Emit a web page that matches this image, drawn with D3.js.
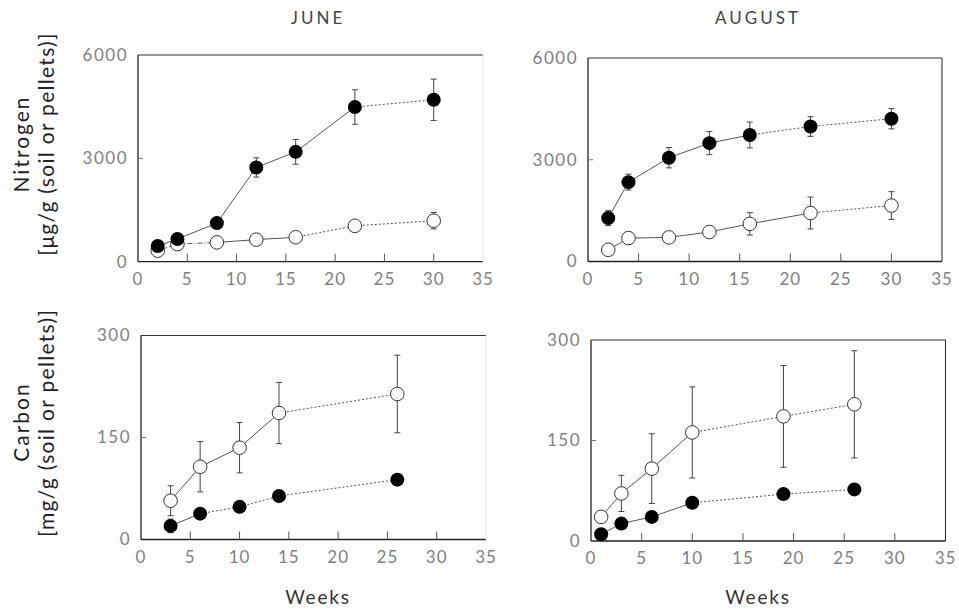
<!DOCTYPE html>
<html><head><meta charset="utf-8">
<script src="https://cdn.jsdelivr.net/npm/d3@7"></script>
<style>body{margin:0;background:#fff}svg{display:block}</style>
</head><body>
<svg id="c" width="959" height="611"></svg>
<script>
// ---- data ----
const xTicks = [0,5,10,15,20,25,30,35];
const nTicks = [0,3000,6000];
const cTicks = [0,150,300];
const columnTitles = ["JUNE","AUGUST"];

const weeksNJune = [2,4,8,12,16,22,30];
const nJuneFilled = [455,658,1120,2736,3188,4490,4700];
const nJuneFilledErr = [70,80,90,280,360,500,600];
const nJuneOpen = [320,510,560,640,710,1040,1190];
const nJuneOpenErr = [50,50,50,70,90,150,240];

const weeksNAug = [2,4,8,12,16,22,30];
const nAugFilled = [1280,2340,3060,3490,3730,3980,4210];
const nAugFilledErr = [220,235,300,340,380,290,300];
const nAugOpen = [345,690,710,870,1110,1430,1650];
const nAugOpenErr = [50,70,70,130,330,470,410];

const weeksCJune = [3,6,10,14,26];
const cJuneOpen = [57,107,135,186,214];
const cJuneOpenErr = [22,37,37,45,57];
const cJuneFilled = [20,38,48,64,88];
const cJuneFilledErr = [10,0,0,0,0];

const weeksCAug = [1,3,6,10,19,26];
const cAugOpen = [36,71,108,162,186,204];
const cAugOpenErr = [0,27,52,68,76,80];
const cAugFilled = [10,26,36,57,70,77];
const cAugFilledErr = [0,0,0,0,0,0];

// ---- layout / style ----
const FONT = "Lato, 'DejaVu Sans', sans-serif";
const S = "solid", D = "2,2", DD = "5,2,1,2";
const panels = [
  {x0:138, x1:483, yB:261.7, yT:55, ymax:6000, yt:nTicks, weeks:weeksNJune,
   filled:nJuneFilled, fErr:nJuneFilledErr, open:nJuneOpen, oErr:nJuneOpenErr,
   fDash:[S,S,S,S,S,D], oDash:[D,DD,S,S,D,D], faintRight:true},
  {x0:588, x1:942, yB:261.5, yT:58, ymax:6000, yt:nTicks, weeks:weeksNAug,
   filled:nAugFilled, fErr:nAugFilledErr, open:nAugOpen, oErr:nAugOpenErr,
   fDash:[S,S,S,S,D,D], oDash:[S,S,S,S,S,D], faintRight:false},
  {x0:141, x1:486, yB:539.5, yT:335.5, ymax:300, yt:cTicks, weeks:weeksCJune,
   filled:cJuneFilled, fErr:cJuneFilledErr, open:cJuneOpen, oErr:cJuneOpenErr,
   fDash:[S,D,D,D], oDash:[S,S,S,D], faintRight:true},
  {x0:591, x1:945.5, yB:541, yT:340, ymax:300, yt:cTicks, weeks:weeksCAug,
   filled:cAugFilled, fErr:cAugFilledErr, open:cAugOpen, oErr:cAugOpenErr,
   fDash:[S,S,S,D,D], oDash:[S,S,S,D,D], faintRight:false}
];

const svg = d3.select("#c");

panels.forEach(p => {
  const x = d3.scaleLinear().domain([0,35]).range([p.x0,p.x1]);
  const y = d3.scaleLinear().domain([0,p.ymax]).range([p.yB,p.yT]);
  const g = svg.append("g");

  // frame
  g.append("line").attr("x1",x(0)).attr("x2",x(35)).attr("y1",y(0)).attr("y2",y(0)).attr("stroke","#222").attr("stroke-width",1.3);
  g.append("line").attr("x1",x(0)).attr("x2",x(35)).attr("y1",y(p.ymax)).attr("y2",y(p.ymax)).attr("stroke","#333").attr("stroke-width",1.1);
  g.append("line").attr("x1",x(0)).attr("x2",x(0)).attr("y1",y(0)).attr("y2",y(p.ymax)).attr("stroke","#222").attr("stroke-width",1.3);
  g.append("line").attr("x1",x(35)).attr("x2",x(35)).attr("y1",y(0)).attr("y2",y(p.ymax))
    .attr("stroke", p.faintRight ? "#e6e6e6" : "#333").attr("stroke-width",1.1);

  // x ticks (inward) and labels
  xTicks.forEach(t => {
    if (t>0 && t<35) g.append("line").attr("x1",x(t)).attr("x2",x(t)).attr("y1",y(0)).attr("y2",y(0)-8).attr("stroke","#555").attr("stroke-width",1);
    g.append("text").attr("x",x(t)).attr("y",y(0)+23).attr("text-anchor","middle")
      .attr("font-family",FONT).attr("font-size",17).attr("letter-spacing","1px").attr("fill","#808080").text(t);
  });
  // y ticks and labels
  p.yt.forEach(t => {
    if (t>0 && t<p.ymax) g.append("line").attr("x1",x(0)).attr("x2",x(0)+5).attr("y1",y(t)).attr("y2",y(t)).attr("stroke","#777").attr("stroke-width",1);
    g.append("text").attr("x",x(0)-10).attr("y",y(t)).attr("dy","0.35em").attr("text-anchor","end")
      .attr("font-family",FONT).attr("font-size",17).attr("letter-spacing","1.5px").attr("fill","#808080").text(t);
  });

  // connecting lines, segment by segment
  const seg = (vals, dashes) => {
    for (let i=0;i<vals.length-1;i++){
      g.append("line").attr("x1",x(p.weeks[i])).attr("y1",y(vals[i]))
        .attr("x2",x(p.weeks[i+1])).attr("y2",y(vals[i+1]))
        .attr("stroke","#555").attr("stroke-width",1)
        .attr("stroke-dasharray", dashes[i]===S ? null : dashes[i]);
    }
  };
  seg(p.open, p.oDash);
  seg(p.filled, p.fDash);

  // error bars
  const err = (vals, errs) => {
    vals.forEach((v,i)=>{
      const e = errs[i]; if (!e) return;
      const cx = x(p.weeks[i]);
      g.append("line").attr("x1",cx).attr("x2",cx).attr("y1",y(v+e)).attr("y2",y(v-e)).attr("stroke","#444").attr("stroke-width",1);
      [v+e, v-e].forEach(w => g.append("line").attr("x1",cx-3).attr("x2",cx+3).attr("y1",y(w)).attr("y2",y(w)).attr("stroke","#444").attr("stroke-width",1));
    });
  };
  err(p.open, p.oErr);
  err(p.filled, p.fErr);

  // markers
  g.selectAll(null).data(p.open).enter().append("circle")
    .attr("cx",(d,i)=>x(p.weeks[i])).attr("cy",d=>y(d)).attr("r",6.8)
    .attr("fill","#fff").attr("stroke","#333").attr("stroke-width",1);
  g.selectAll(null).data(p.filled).enter().append("circle")
    .attr("cx",(d,i)=>x(p.weeks[i])).attr("cy",d=>y(d)).attr("r",7)
    .attr("fill","#000");
});

// column titles
[318, 758].forEach((cx,i)=>{
  svg.append("text").attr("x",cx).attr("y",24).attr("text-anchor","middle")
    .attr("font-family",FONT).attr("font-size",17).attr("letter-spacing","3px").attr("fill","#444").text(columnTitles[i]);
  svg.append("text").attr("x",cx).attr("y",604).attr("text-anchor","middle")
    .attr("font-family",FONT).attr("font-size",19).attr("letter-spacing","1.8px").attr("fill","#333").text("Weeks");
});

// y axis titles
const vt = (txt, cx, cy, size, ls) => svg.append("text")
  .attr("transform",`translate(${cx},${cy}) rotate(-90)`).attr("text-anchor","middle")
  .attr("font-family",FONT).attr("font-size",size).attr("letter-spacing",ls).attr("fill","#222").text(txt);
vt("Nitrogen", 29, 144, 21, "2px");
vt("[\u03bcg/g (soil or pellets)]", 54, 144, 21, "1.3px");
vt("Carbon", 29, 422, 21, "2px");
vt("[mg/g (soil or pellets)]", 54, 423, 21, "1.3px");
</script>
</body></html>
